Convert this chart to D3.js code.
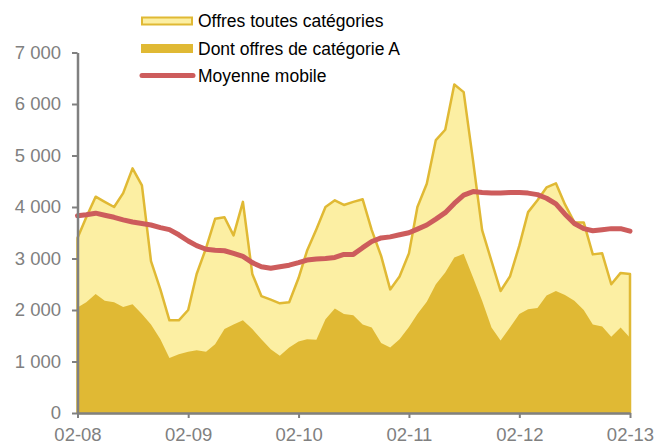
<!DOCTYPE html>
<html>
<head>
<meta charset="utf-8">
<script src="https://cdn.jsdelivr.net/npm/d3@7"></script>
<style>
  body { margin: 0; background: white; }
  svg { display: block; font-family: "Liberation Sans", Arial, sans-serif; }
</style>
</head>
<body>
<div id="rendering"></div>
<script>
// monthly data, 02-2008 .. 02-2013
const startMonth = new Date(2008, 1, 1);
const endMonth = new Date(2013, 1, 1);

const totalOffers = [
  3400, 3800, 4200, 4100, 4000, 4270, 4750, 4420, 2950, 2400, 1800, 1800,
  2000, 2700, 3200, 3770, 3800, 3450, 4100, 2700, 2270, 2200, 2130, 2150,
  2620, 3150, 3570, 4000, 4130, 4040, 4100, 4150, 3550, 3050, 2400, 2650,
  3100, 4000, 4450, 5300, 5500, 6380, 6230, 4900, 3550, 2950, 2370, 2650,
  3250, 3900, 4130, 4380, 4460, 4050, 3700, 3700, 3080, 3100, 2500, 2720,
  2700
];

const categoryA = [
  2050, 2150, 2310, 2180, 2150, 2060, 2110, 1920, 1720, 1430, 1070, 1140,
  1190, 1220, 1190, 1335, 1630, 1720, 1800, 1630, 1430, 1240, 1110, 1270,
  1390, 1430, 1420, 1820, 2030, 1920, 1900, 1720, 1660, 1360, 1270, 1430,
  1670, 1920, 2160, 2500, 2730, 3020, 3090, 2630, 2180, 1660, 1410, 1660,
  1920, 2015, 2040, 2280, 2370, 2290, 2180, 2000, 1720, 1680, 1480, 1660,
  1460
];

const movingAvg = [
  3830, 3850, 3880, 3840, 3800, 3750, 3710, 3680, 3650, 3600, 3560, 3460,
  3340, 3250, 3180, 3160, 3150, 3100, 3040, 2920, 2840, 2810, 2840, 2870,
  2920, 2970, 2990, 3000, 3020, 3080, 3080, 3210, 3330, 3400, 3420, 3460,
  3500, 3570, 3650, 3765, 3890, 4070, 4230, 4300, 4280, 4270, 4270, 4280,
  4280, 4270, 4240, 4170, 4060, 3860, 3680, 3580, 3540, 3560, 3580, 3580,
  3530
];

const yTicks = [0, 1000, 2000, 3000, 4000, 5000, 6000, 7000];
const xTickLabels = ["02-08", "02-09", "02-10", "02-11", "02-12", "02-13"];
const legendLabels = ["Offres toutes catégories", "Dont offres de catégorie A", "Moyenne mobile"];

const width = 667;
const height = 443;
const gold = "#e0b934";
const light = "#fcefa3";
const red = "#cd5c5c";
const grey = "#808080";

const months = d3.timeMonth.range(startMonth, d3.timeMonth.offset(endMonth, 1));
const yearTicks = months.filter((d, i) => i % 12 === 0);

const scaleX = d3.scaleTime().domain([startMonth, endMonth]).range([77.5, 630]);
const scaleY = d3.scaleLinear().domain([0, 7000]).range([413, 52.5]);

const fr = d3.formatLocale({ decimal: ",", thousands: " ", grouping: [3], currency: ["", " €"] });

const svg = d3
  .select("#rendering")
  .append("svg")
  .attr("width", width)
  .attr("height", height);

const area = (values) =>
  d3
    .area()
    .x((d, i) => scaleX(months[i]))
    .y0(scaleY(0))
    .y1((d) => scaleY(d))(values);

svg
  .append("path")
  .attr("d", area(totalOffers))
  .attr("fill", light)
  .attr("stroke", gold)
  .attr("stroke-width", 2.5)
  .attr("stroke-linejoin", "round");

svg
  .append("path")
  .attr("d", area(categoryA))
  .attr("fill", gold);

svg
  .append("path")
  .attr(
    "d",
    d3
      .line()
      .x((d, i) => scaleX(months[i]))
      .y((d) => scaleY(d))(movingAvg)
  )
  .attr("fill", "none")
  .attr("stroke", red)
  .attr("stroke-width", 5)
  .attr("stroke-linecap", "round")
  .attr("stroke-linejoin", "round");

const xAxis = svg
  .append("g")
  .attr("transform", `translate(0, ${scaleY(0)})`)
  .call(
    d3
      .axisBottom(scaleX)
      .tickValues(yearTicks)
      .tickFormat((d, i) => xTickLabels[i])
      .tickSize(5)
      .tickSizeOuter(0)
      .tickPadding(9.5)
  );

const yAxis = svg
  .append("g")
  .attr("transform", `translate(${scaleX(startMonth)}, 0)`)
  .call(
    d3
      .axisLeft(scaleY)
      .tickValues(yTicks)
      .tickFormat(fr.format(","))
      .tickSize(5.5)
      .tickSizeOuter(0)
      .tickPadding(11)
  );

[xAxis, yAxis].forEach((g) => {
  g.select(".domain").attr("stroke", grey).attr("stroke-width", 2.5);
  g.selectAll(".tick line").attr("stroke", grey).attr("stroke-width", 2);
  g.selectAll(".tick text")
    .attr("fill", grey)
    .style("font-size", "18.5px")
    .style("font-family", "'Liberation Sans', Arial, sans-serif");
});

// legend
const legend = svg.append("g").attr("transform", "translate(141, 0)");
const rowsY = [21, 48.5, 75.5];

legend
  .append("rect")
  .attr("x", 1)
  .attr("y", rowsY[0] - 3.5)
  .attr("width", 50)
  .attr("height", 7)
  .attr("fill", light)
  .attr("stroke", gold)
  .attr("stroke-width", 2);

legend
  .append("rect")
  .attr("x", 0)
  .attr("y", rowsY[1] - 4.5)
  .attr("width", 52)
  .attr("height", 9)
  .attr("fill", gold);

legend
  .append("line")
  .attr("x1", 1)
  .attr("x2", 52)
  .attr("y1", rowsY[2])
  .attr("y2", rowsY[2])
  .attr("stroke", red)
  .attr("stroke-width", 5)
  .attr("stroke-linecap", "round");

legend
  .selectAll("text")
  .data(legendLabels)
  .enter()
  .append("text")
  .attr("x", 57)
  .attr("y", (d, i) => rowsY[i])
  .attr("dy", "0.36em")
  .attr("fill", "#000")
  .style("font-size", "17.5px")
  .text((d) => d);
</script>
</body>
</html>
